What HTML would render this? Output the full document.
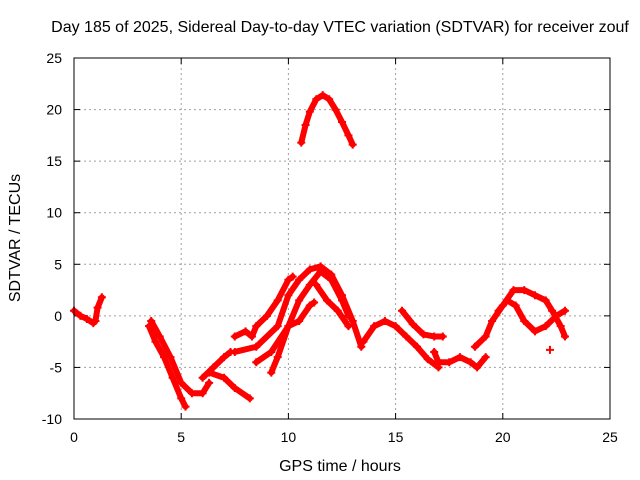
<!DOCTYPE html>
<html><head><meta charset="utf-8"><style>
body{margin:0;background:#fff}
svg{display:block;font-family:"Liberation Sans",sans-serif}
</style></head><body>
<svg id="chart" width="640" height="480">
<text x="340" y="32" font-size="16" text-anchor="middle">Day 185 of 2025, Sidereal Day-to-day VTEC variation (SDTVAR) for receiver zouf</text>
<text x="340" y="471" font-size="16" text-anchor="middle">GPS time / hours</text>
<text transform="translate(20,238) rotate(-90)" font-size="16" text-anchor="middle">SDTVAR / TECUs</text>
<g id="grid"></g><g id="ticks"></g><g id="marks"></g>
<rect x="74" y="58" width="536" height="361" fill="none" stroke="#000"/>
</svg>
<script>
const xTicks=[0,5,10,15,20,25];
const yTicks=[-10,-5,0,5,10,15,20,25];
const tracks=[
 [[10.6,16.8],[10.8,18.5],[11.0,19.8],[11.3,21],[11.6,21.4],[11.9,21],[12.2,20],[12.5,18.8],[12.8,17.5],[13.0,16.6]],
 [[0,0.5],[0.3,0],[0.6,-0.3],[0.9,-0.7],[1.0,-0.5],[1.1,0.8],[1.3,1.8]],
 [[3.5,-1],[3.8,-2.5],[4.2,-4],[4.6,-6],[5.0,-8],[5.2,-8.8]],
 [[3.6,-0.5],[4,-2],[4.5,-4],[5,-6.5],[5.5,-7.5],[6,-7.5],[6.3,-6.5]],
 [[6,-6],[6.5,-5],[7,-4],[7.3,-3.5]],
 [[6.3,-5.5],[7,-6],[7.5,-7],[8.2,-8]],
 [[7.5,-3.5],[8.5,-3],[9.5,-1],[10,2],[10.5,3.5],[11,4.5],[11.5,4.8],[12,4],[12.5,2],[13,-0.5],[13.4,-3]],
 [[9.2,-5.5],[9.5,-4],[10,-1],[10.5,1.5],[11,3],[11.5,4.3],[12,3.5],[12.5,1.5],[12.8,0]],
 [[7.5,-2],[8,-1.5],[8.3,-2],[8.5,-1],[9,0],[9.5,1.5],[10,3.5],[10.2,3.8]],
 [[8.5,-4.5],[9.2,-3.5],[10,-1],[10.5,-0.5],[11,1],[11.2,1.3]],
 [[11.3,3],[11.8,1.5],[12.3,0.5],[12.8,-1]],
 [[13.5,-2.5],[14,-1],[14.5,-0.5],[15,-1],[15.5,-2],[16,-3],[16.5,-4.2],[17,-5]],
 [[15.3,0.5],[15.8,-0.8],[16.3,-1.8],[16.8,-2],[17.2,-2]],
 [[16.8,-3.5],[17,-4.5],[17.5,-4.5],[18,-4],[18.5,-4.5],[18.8,-5],[19.2,-4]],
 [[18.7,-3],[19.2,-2],[19.5,-0.5],[20,1],[20.5,2.5],[21,2.5],[21.5,2],[22,1.5],[22.3,0.5],[22.7,-1],[22.9,-2]],
 [[19.8,0.5],[20.2,1.5],[20.6,1],[21,-0.5],[21.5,-1.5],[22,-1],[22.5,0],[22.9,0.5]],
 [[22.2,-3.3]]
];
const NS='http://www.w3.org/2000/svg';
const X=v=>74+v*536/25, Y=v=>419-(v+10)*361/35;
function mk(t,a,p){const e=document.createElementNS(NS,t);for(const k in a)e.setAttribute(k,a[k]);p.appendChild(e);return e;}
const g=document.getElementById('grid'),tk=document.getElementById('ticks'),m=document.getElementById('marks');
xTicks.forEach(v=>{const x=X(v);
 if(v>0&&v<25){const l=mk('line',{x1:x,x2:x,y1:58,y2:419,stroke:'#a0a0a0','stroke-dasharray':'2,3'},g);}
 mk('line',{x1:x,x2:x,y1:419,y2:413,stroke:'#000'},tk);mk('line',{x1:x,x2:x,y1:58,y2:64,stroke:'#000'},tk);
 const t=mk('text',{x:x,y:442,'font-size':14,'text-anchor':'middle'},tk);t.textContent=v;
 });
yTicks.forEach(v=>{const y=Y(v);
 if(v>-10&&v<25){const l=mk('line',{x1:74,x2:610,y1:y,y2:y,stroke:'#a0a0a0','stroke-dasharray':'2,3'},g);}
 mk('line',{x1:74,x2:80,y1:y,y2:y,stroke:'#000'},tk);mk('line',{x1:610,x2:604,y1:y,y2:y,stroke:'#000'},tk);
 const t=mk('text',{x:62,y:y+5,'font-size':14,'text-anchor':'end'},tk);t.textContent=v;
 });
tracks.forEach(tr=>{
 const pl=mk('polyline',{points:tr.map(p=>X(p[0])+','+Y(p[1])).join(' '),fill:'none',stroke:'#f00','stroke-width':6,'stroke-linejoin':'round','stroke-linecap':'round'},m);
 
 
 tr.forEach(p=>{const x=X(p[0]),y=Y(p[1]);
  const s=mk('path',{d:`M${x-4},${y}H${x+4}M${x},${y-4}V${y+4}`,stroke:'#f00','stroke-width':2},m);
  
  });
});
</script>
</body></html>
